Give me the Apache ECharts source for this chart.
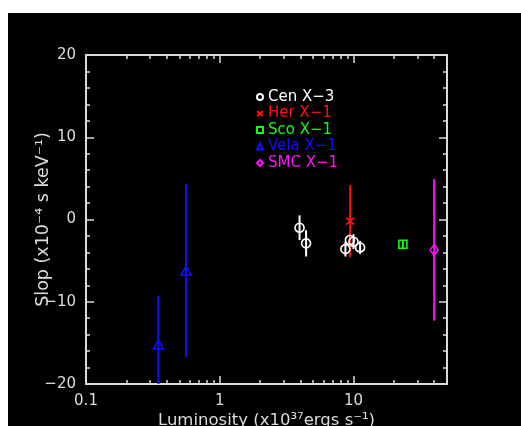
<!DOCTYPE html>
<html>
<head>
<meta charset="utf-8">
<script src="https://cdn.jsdelivr.net/npm/echarts@6/dist/echarts.min.js"></script>
<style>
  html, body { margin: 0; padding: 0; background: #fff; }
  #bg { position: absolute; left: 8px; top: 13px; width: 513px; height: 413px; background: #000; }
  #chart { position: absolute; left: 0; top: 0; width: 521px; height: 426px; }
</style>
</head>
<body>
<div id="bg"></div>
<div id="chart"></div>
<script>
// ---- Data (luminosity in 1e37 erg/s, slope in 1e-4 s/keV, symmetric error) ----
var cenLum   = [3.95, 4.42, 8.7, 9.4, 10.0, 11.2];
var cenSlope = [-1.0, -2.9, -3.6, -2.5, -2.7, -3.4];
var cenErr   = [1.5, 1.6, 0.9, 0.8, 0.9, 0.8];

var herLum   = [9.45];
var herSlope = [-0.2];
var herErr   = [4.4];

var scoLum   = [23.4];
var scoSlope = [-3.0];
var scoErr   = [0.5];

var velaLum   = [0.348, 0.56];
var velaSlope = [-15.2, -6.2];
var velaErr   = [5.9, 10.5];

var smcLum   = [40.1];
var smcSlope = [-3.7];
var smcErr   = [8.6];

var sourceNames = ['Cen X\u22123', 'Her X\u22121', 'Sco X\u22121', 'Vela X\u22121', 'SMC X\u22121'];

var xMajorTicks = [0.1, 1, 10];
var xMinorTicks = [0.2, 0.3, 0.4, 0.5, 0.6, 0.7, 0.8, 0.9, 2, 3, 4, 5, 6, 7, 8, 9, 20, 30, 40];
var xMin = 0.1, xMax = 50;
var yMin = -20, yMax = 20, yInterval = 10;

// ---- Build ----
var FONT = 'DejaVu Sans';
var AX = '#dcdcdc';
var colors  = ['#ffffff', '#ff1010', '#10ff10', '#1010ff', '#ff10ff'];
var symbols = ['circle', 'path://M0,0L10,8M0,8L10,0', 'rect', 'triangle', 'diamond'];
var sizes   = [9, [8, 7], 8, [10, 9], [8, 11]];
var groups = [
  [cenLum, cenSlope, cenErr],
  [herLum, herSlope, herErr],
  [scoLum, scoSlope, scoErr],
  [velaLum, velaSlope, velaErr],
  [smcLum, smcSlope, smcErr]
];

function zip(g) {
  return g[0].map(function (x, i) { return [x, g[1][i], g[2][i]]; });
}

var series = [];
groups.forEach(function (g, k) {
  series.push({
    name: sourceNames[k],
    type: 'scatter',
    xAxisIndex: 0, yAxisIndex: 0,
    symbol: symbols[k],
    symbolSize: sizes[k],
    z: 3,
    itemStyle: { color: 'transparent', borderColor: colors[k], borderWidth: 1.6, opacity: 1 },
    emphasis: { disabled: true },
    data: zip(g).map(function (d) { return [d[0], d[1]]; })
  });
});
groups.forEach(function (g, k) {
  var col = colors[k];
  series.push({
    type: 'custom',
    xAxisIndex: 0, yAxisIndex: 0,
    z: 2,
    silent: true,
    encode: { x: 0, y: 1 },
    data: zip(g),
    renderItem: function (params, api) {
      var x = api.value(0), y = api.value(1), e = api.value(2);
      var lo = Math.max(y - e, yMin), hi = Math.min(y + e, yMax);
      var p1 = api.coord([x, lo]);
      var p2 = api.coord([x, hi]);
      return {
        type: 'line',
        shape: { x1: p1[0], y1: p1[1], x2: p2[0], y2: p2[1] },
        style: { stroke: col, lineWidth: 2 }
      };
    }
  });
});

function labelFmt(v) {
  var r = Math.round(v * 1000) / 1000;
  if (r === 0.1) return '0.1';
  if (r === 1) return '1';
  if (r === 10) return '10';
  return '';
}

function xAx(pos, ticks, len, showLine, showLabel, extra) {
  var a = {
    type: 'log', logBase: 10, min: xMin, max: xMax, position: pos,
    axisLine: { show: showLine, onZero: false, lineStyle: { color: AX, width: 2 } },
    axisTick: { show: true, inside: true, length: len, customValues: ticks,
                lineStyle: { color: AX, width: 1.5 } },
    axisLabel: { show: showLabel, customValues: xMajorTicks, formatter: labelFmt,
                 color: AX, fontFamily: FONT, fontSize: 15, margin: 10 },
    splitLine: { show: false },
    minorTick: { show: false }
  };
  if (extra) for (var k in extra) a[k] = extra[k];
  return a;
}

function yAx(pos, showLabel) {
  var a = {
    type: 'value', min: yMin, max: yMax, interval: yInterval, position: pos,
    axisLine: { show: true, onZero: false, lineStyle: { color: AX, width: 2 } },
    axisTick: { show: true, inside: true, length: 8, lineStyle: { color: AX, width: 1.5 } },
    minorTick: { show: true, splitNumber: 5, length: 4, lineStyle: { color: AX, width: 1.5 } },
    axisLabel: { show: showLabel, color: AX, fontFamily: FONT, fontSize: 15, margin: 10,
                 formatter: function (v) { return v < 0 ? '\u2212' + (-v) : String(v); } },
    splitLine: { show: false }
  };
  return a;
}

var yLeft = yAx('left', true);
yLeft.name = 'Slop (x10\u207B\u2074 s keV\u207B\u00B9)';
yLeft.nameLocation = 'middle';
yLeft.nameGap = 34;
yLeft.nameMoveOverlap = false;
yLeft.nameTextStyle = { color: AX, fontFamily: FONT, fontSize: 17.5 };

var option = {
  animation: false,
  backgroundColor: 'transparent',
  grid: { left: 86, top: 55, right: 74, bottom: 42, containLabel: false, outerBoundsMode: 'none' },
  legend: {
    show: true,
    orient: 'vertical',
    left: 251, top: 84,
    itemWidth: 6, itemHeight: 6,
    itemGap: 0.5,
    selectedMode: false,
    textStyle: { fontFamily: FONT, fontSize: 15, lineHeight: 16 },
    data: sourceNames.map(function (n, k) {
      return { name: n, textStyle: { color: colors[k] } };
    })
  },
  xAxis: [
    xAx('bottom', xMajorTicks, 8, true, true, {
      name: 'Luminosity (x10\u00B3\u2077ergs s\u207B\u00B9)',
      nameLocation: 'middle', nameGap: 28, nameMoveOverlap: false,
      nameTextStyle: { color: AX, fontFamily: FONT, fontSize: 16.5 }
    }),
    xAx('bottom', xMinorTicks, 4, false, false),
    xAx('top', xMajorTicks, 8, true, false),
    xAx('top', xMinorTicks, 4, false, false)
  ],
  yAxis: [yLeft, yAx('right', false)],
  series: series
};

var chart = echarts.init(document.getElementById('chart'), null, { renderer: 'canvas' });
chart.setOption(option);
</script>
</body>
</html>
